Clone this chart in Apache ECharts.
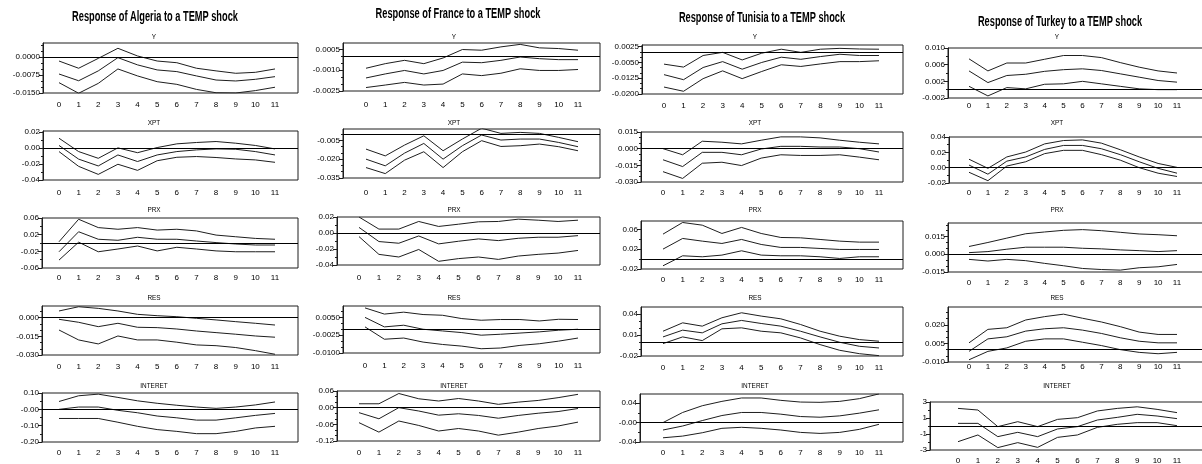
<!DOCTYPE html>
<html>
<head>
<meta charset="utf-8">
<script src="https://cdn.jsdelivr.net/npm/echarts@6/dist/echarts.min.js"></script>
<style>
  html, body { margin: 0; padding: 0; background: #fff; }
  #chart { width: 1202px; height: 464px; }
</style>
</head>
<body>
<div id="chart"></div>
<script>
const periods = [0, 1, 2, 3, 4, 5, 6, 7, 8, 9, 10, 11];
const countries = ['Algeria', 'France', 'Tunisia', 'Turkey'];
const variables = ['Y', 'XPT', 'PRX', 'RES', 'INTERET'];

// each panel: [upper band, response, lower band]
const algeriaY = [
  [-0.0017, -0.0047, -0.0006, 0.0036, 0.0004, -0.0017, -0.0024, -0.0047, -0.0058, -0.0068, -0.0064, -0.0050],
  [-0.0071, -0.0099, -0.0058, -0.0003, -0.0033, -0.0054, -0.0061, -0.0079, -0.0096, -0.0100, -0.0093, -0.0082],
  [-0.0107, -0.0151, -0.0110, -0.0050, -0.0079, -0.0103, -0.0114, -0.0135, -0.0149, -0.0150, -0.0140, -0.0126]
];
const algeriaXPT = [
  [0.012, -0.0046, -0.013, 0.0, -0.006, 0.0004, 0.005, 0.0067, 0.0079, 0.0058, 0.003, -0.0013],
  [0.003, -0.014, -0.0225, -0.0088, -0.017, -0.0088, -0.0046, -0.0025, -0.0013, -0.0017, -0.0046, -0.0088],
  [-0.0046, -0.023, -0.033, -0.0204, -0.028, -0.016, -0.0117, -0.0108, -0.012, -0.0138, -0.015, -0.018]
];
const algeriaPRX = [
  [0.003, 0.057, 0.037, 0.033, 0.037, 0.031, 0.033, 0.029, 0.019, 0.015, 0.011, 0.009],
  [-0.021, 0.027, 0.009, 0.0065, 0.0137, 0.009, 0.009, 0.0048, 0.001, -0.0024, -0.0048, -0.0048],
  [-0.041, 0.002, -0.021, -0.0144, -0.0072, -0.019, -0.0103, -0.0144, -0.019, -0.021, -0.021, -0.021]
];
const algeriaRES = [
  [0.0054, 0.0088, 0.0075, 0.0054, 0.0027, 0.0016, 0.0008, -0.0005, -0.0018, -0.0032, -0.0045, -0.0059],
  [-0.0013, -0.0037, -0.0072, -0.0045, -0.0077, -0.008, -0.0091, -0.0107, -0.012, -0.0133, -0.0147, -0.0157],
  [-0.0099, -0.0179, -0.0211, -0.0147, -0.0179, -0.0179, -0.0197, -0.0219, -0.0225, -0.024, -0.0265, -0.0294]
];
const algeriaINTERET = [
  [0.048, 0.083, 0.093, 0.073, 0.052, 0.037, 0.025, 0.014, 0.006, 0.014, 0.027, 0.045],
  [0.0, 0.014, 0.014, -0.006, -0.021, -0.041, -0.052, -0.066, -0.066, -0.052, -0.037, -0.025],
  [-0.056, -0.056, -0.056, -0.079, -0.104, -0.124, -0.135, -0.149, -0.149, -0.135, -0.114, -0.104]
];

const franceY = [
  [-0.00086, -0.00053, -0.00029, -0.00053, -0.00012, 0.00049, 0.00044, 0.00068, 0.00086, 0.00061, 0.00056, 0.00044],
  [-0.00156, -0.00127, -0.00102, -0.00127, -0.00102, -0.00042, -0.00046, -0.00029, -0.00005, -0.00017, -0.00024, -0.00024],
  [-0.00225, -0.00207, -0.00188, -0.00207, -0.0020, -0.00127, -0.00139, -0.00122, -0.0009, -0.00102, -0.00102, -0.00095]
];
const franceXPT = [
  [-0.012, -0.0174, -0.0088, -0.0014, -0.0133, -0.004, 0.0046, 0.0005, 0.0013, 0.0005, -0.0027, -0.0061],
  [-0.020, -0.0253, -0.0152, -0.0075, -0.020, -0.0093, -0.0008, -0.0048, -0.004, -0.004, -0.0067, -0.0101],
  [-0.0267, -0.0315, -0.0208, -0.0141, -0.0267, -0.0141, -0.0053, -0.0099, -0.0093, -0.008, -0.0101, -0.0133]
];
const francePRX = [
  [0.020, 0.0049, 0.0049, 0.0144, 0.0082, 0.011, 0.014, 0.0144, 0.0173, 0.016, 0.0144, 0.016],
  [0.007, -0.0107, -0.0128, -0.0037, -0.0136, -0.0103, -0.0074, -0.0095, -0.0066, -0.0053, -0.0053, -0.0033],
  [-0.0045, -0.0267, -0.030, -0.0206, -0.0354, -0.032, -0.030, -0.033, -0.0288, -0.0267, -0.0251, -0.0218]
];
const franceRES = [
  [0.009, 0.0064, 0.0072, 0.0062, 0.0059, 0.0045, 0.0038, 0.0041, 0.0041, 0.0035, 0.0042, 0.0041],
  [0.005, 0.001, 0.0017, 0.0, -0.0007, -0.0014, -0.0025, -0.0021, -0.0016, -0.0011, -0.0004, 0.0],
  [0.001, -0.0042, -0.0037, -0.0054, -0.0064, -0.0071, -0.0082, -0.0079, -0.0068, -0.0061, -0.005, -0.0037]
];
const franceINTERET = [
  [0.014, 0.014, 0.051, 0.032, 0.024, 0.033, 0.024, 0.012, 0.020, 0.026, 0.036, 0.048],
  [-0.018, -0.040, 0.0, -0.012, -0.027, -0.022, -0.028, -0.038, -0.028, -0.020, -0.014, -0.003],
  [-0.054, -0.088, -0.048, -0.064, -0.084, -0.075, -0.084, -0.099, -0.088, -0.075, -0.066, -0.052]
];

const tunisiaY = [
  [-0.0058, -0.0072, -0.0017, -0.0002, -0.0038, -0.0006, 0.0013, -0.0002, 0.0013, 0.0017, 0.0014, 0.0013],
  [-0.0108, -0.0132, -0.0074, -0.0046, -0.0082, -0.005, -0.0025, -0.0035, -0.0022, -0.0011, -0.0017, -0.0017],
  [-0.0167, -0.0187, -0.0127, -0.009, -0.0127, -0.0093, -0.0061, -0.0069, -0.0057, -0.0046, -0.0046, -0.0042]
];
const tunisiaXPT = [
  [0.0, -0.0055, 0.0067, 0.0058, 0.0043, 0.0076, 0.0106, 0.0106, 0.0097, 0.0076, 0.0058, 0.0043],
  [-0.010, -0.0161, -0.0033, -0.0033, -0.0055, -0.0003, 0.0021, 0.0021, 0.0015, 0.0015, 0.0, -0.003],
  [-0.0207, -0.0268, -0.0131, -0.0122, -0.0152, -0.0085, -0.0055, -0.0061, -0.0061, -0.0055, -0.0076, -0.010]
];
const tunisiaPRX = [
  [0.0505, 0.074, 0.0686, 0.0518, 0.064, 0.0518, 0.0437, 0.043, 0.0397, 0.0363, 0.0343, 0.0343],
  [0.0202, 0.0417, 0.0363, 0.0316, 0.0397, 0.0296, 0.0236, 0.0236, 0.0215, 0.0195, 0.0195, 0.0195],
  [-0.0135, 0.0067, 0.0047, 0.0081, 0.0168, 0.0081, 0.0067, 0.0067, 0.0047, 0.0013, 0.0047, 0.0047]
];
const tunisiaRES = [
  [0.0152, 0.0271, 0.0224, 0.0343, 0.0414, 0.0367, 0.0328, 0.0248, 0.0152, 0.0081, 0.0033, 0.001],
  [0.0071, 0.0167, 0.0129, 0.0257, 0.0305, 0.0262, 0.0224, 0.0152, 0.0071, -0.0005, -0.0062, -0.0086],
  [-0.0024, 0.0071, 0.0019, 0.0186, 0.020, 0.0152, 0.0129, 0.0057, -0.0038, -0.0119, -0.0167, -0.0195]
];
const tunisiaINTERET = [
  [0.0, 0.0209, 0.0348, 0.0438, 0.0508, 0.0508, 0.0459, 0.0424, 0.0418, 0.0438, 0.0494, 0.0592],
  [-0.0153, -0.007, 0.0042, 0.0146, 0.0209, 0.0209, 0.0174, 0.0125, 0.0111, 0.0139, 0.0195, 0.0264],
  [-0.0313, -0.0278, -0.0209, -0.0118, -0.0097, -0.0118, -0.0153, -0.0202, -0.0223, -0.0202, -0.0139, -0.0035]
];

const turkeyY = [
  [0.0074, 0.0045, 0.0064, 0.0064, 0.0073, 0.0082, 0.0082, 0.0077, 0.0065, 0.0054, 0.0045, 0.004],
  [0.0045, 0.0017, 0.0034, 0.0037, 0.0044, 0.0048, 0.005, 0.0046, 0.0038, 0.003, 0.0022, 0.0018],
  [0.0008, -0.0015, 0.0005, 0.0002, 0.0013, 0.0014, 0.002, 0.0014, 0.0008, 0.0002, 0.0, 0.0]
];
const turkeyXPT = [
  [0.011, -0.0009, 0.014, 0.0204, 0.031, 0.0354, 0.0362, 0.032, 0.0234, 0.014, 0.0055, 0.0004],
  [0.0034, -0.0085, 0.0085, 0.014, 0.0238, 0.029, 0.029, 0.0247, 0.017, 0.0077, -0.0009, -0.0072],
  [-0.006, -0.017, 0.0021, 0.0077, 0.0183, 0.0226, 0.0226, 0.017, 0.0098, 0.0, -0.0072, -0.0115]
];
const turkeyPRX = [
  [0.0066, 0.010, 0.0137, 0.0174, 0.0189, 0.0203, 0.0209, 0.020, 0.0186, 0.0172, 0.0166, 0.0157],
  [0.0014, 0.0023, 0.0043, 0.006, 0.006, 0.006, 0.0051, 0.0046, 0.0037, 0.0031, 0.0023, 0.0031],
  [-0.0043, -0.0057, -0.0043, -0.0054, -0.0077, -0.0097, -0.012, -0.0129, -0.0134, -0.0114, -0.0106, -0.0086]
];
const turkeyRES = [
  [0.0055, 0.0164, 0.0177, 0.024, 0.0267, 0.0287, 0.0254, 0.0224, 0.0186, 0.0142, 0.0123, 0.0123],
  [-0.0014, 0.0087, 0.0104, 0.015, 0.0169, 0.0177, 0.0158, 0.0131, 0.0096, 0.0068, 0.0055, 0.0055],
  [-0.0082, -0.0014, 0.0014, 0.0068, 0.0087, 0.0087, 0.006, 0.0033, 0.0, -0.0022, -0.0033, -0.0022]
];
const turkeyINTERET = [
  [2.2, 2.0, -0.08, 0.54, -0.08, 0.83, 1.04, 1.88, 2.2, 2.4, 2.08, 1.67],
  [0.33, 0.33, -1.33, -0.79, -1.33, -0.37, -0.08, 0.75, 1.08, 1.46, 1.25, 0.92],
  [-1.96, -1.12, -2.7, -2.08, -2.67, -1.42, -1.12, -0.17, 0.21, 0.42, 0.42, 0.04]
];

const panelData = [
  [algeriaY, algeriaXPT, algeriaPRX, algeriaRES, algeriaINTERET],
  [franceY, franceXPT, francePRX, franceRES, franceINTERET],
  [tunisiaY, tunisiaXPT, tunisiaPRX, tunisiaRES, tunisiaINTERET],
  [turkeyY, turkeyXPT, turkeyPRX, turkeyRES, turkeyINTERET]
];

// y tick labels, per country, per variable
const algeriaTickLabels = [
  ['0.0000', '-0.0075', '-0.0150'],
  ['0.02', '0.00', '-0.02', '-0.04'],
  ['0.06', '0.02', '-0.02', '-0.06'],
  ['0.000', '-0.015', '-0.030'],
  ['0.10', '-0.00', '-0.10', '-0.20']
];
const franceTickLabels = [
  ['0.0005', '-0.0010', '-0.0025'],
  ['-0.005', '-0.020', '-0.035'],
  ['0.02', '0.00', '-0.02', '-0.04'],
  ['0.0050', '-0.0025', '-0.0100'],
  ['0.06', '0.00', '-0.06', '-0.12']
];
const tunisiaTickLabels = [
  ['0.0025', '-0.0050', '-0.0125', '-0.0200'],
  ['0.015', '0.000', '-0.015', '-0.030'],
  ['0.06', '0.02', '-0.02'],
  ['0.04', '0.01', '-0.02'],
  ['0.04', '-0.00', '-0.04']
];
const turkeyTickLabels = [
  ['0.010', '0.006', '0.002', '-0.002'],
  ['0.04', '0.02', '0.00', '-0.02'],
  ['0.015', '0.000', '-0.015'],
  ['0.020', '0.005', '-0.010'],
  ['3', '1', '-1', '-3']
];
const tickLabels = [algeriaTickLabels, franceTickLabels, tunisiaTickLabels, turkeyTickLabels];

// y axis ranges [min, max]
const algeriaRanges = [[-0.015, 0.0058], [-0.04, 0.021], [-0.06, 0.06], [-0.03, 0.0094], [-0.2, 0.1]];
const franceRanges = [[-0.0025, 0.00096], [-0.035, 0.004], [-0.04, 0.02], [-0.01, 0.0098], [-0.12, 0.06]];
const tunisiaRanges = [[-0.02, 0.0033], [-0.03, 0.015], [-0.02, 0.077], [-0.02, 0.0496], [-0.04, 0.059]];
const turkeyRanges = [[-0.002, 0.01], [-0.02, 0.04], [-0.015, 0.0265], [-0.01, 0.0345], [-3, 3]];
const yRanges = [algeriaRanges, franceRanges, tunisiaRanges, turkeyRanges];

// ---- layout (pixels) ----
// right edge of the boxes, x of period 11, title centre/y, sub-title centre
const columnLayout = [
  { right: 298, cat11: 275, titleX: 155, titleY: 17, subX: 154 },
  { right: 600, cat11: 578, titleX: 458, titleY: 14, subX: 454 },
  { right: 903, cat11: 879, titleX: 762, titleY: 18, subX: 755 },
  { right: 1212, cat11: 1177, titleX: 1060, titleY: 22, subX: 1057 }
];
// per panel: [left, top, bottom, x of period 0, y of period labels]
const panelLayout = [
  [[43, 43, 93, 59, 105], [43, 131, 180, 59, 193], [42, 218, 268, 59, 278], [42, 306, 355, 59, 367], [42, 393, 442, 59, 453]],
  [[343, 43, 91, 366, 105], [343, 129, 178, 366, 193], [337, 217, 265, 359, 278], [343, 306, 353, 365, 366], [337, 391, 441, 359, 453]],
  [[642, 45, 94, 664, 106], [641, 132, 182, 663, 193], [641, 221, 269, 663, 280], [641, 307, 356, 663, 368], [640, 394, 442, 663, 453]],
  [[948, 48, 98, 969, 106], [949, 137, 183, 969, 193], [948, 223, 272, 969, 283], [948, 307, 362, 969, 367], [930, 402, 450, 958, 461]]
];
const subTitleY = [37, 123, 210, 298, 386];

const font = "'Liberation Sans', Arial, sans-serif";
const ink = '#1e1e1e';

// minor ticks between the labelled ones
function minorTicks(ticks, min, max) {
  const step = Math.abs(ticks[0] - ticks[1]);
  const mant = step / Math.pow(10, Math.floor(Math.log10(step)));
  const splits = [1.5, 3, 6, 7.5].some(m => Math.abs(mant - m) < 1e-6) ? 3 : 2;
  const ms = step / splits;
  const out = [];
  for (let k = -60; k <= 60; k++) {
    const v = ticks[0] + k * ms;
    if (v < min - 1e-12 || v > max + 1e-12) continue;
    if (k % splits === 0) continue;
    out.push(v);
  }
  return out;
}

const grids = [], xAxes = [], yAxes = [], series = [], graphics = [];

countries.forEach((country, c) => {
  const col = columnLayout[c];
  graphics.push({
    type: 'text', x: col.titleX, y: col.titleY, scaleX: 0.66,
    style: { text: 'Response of ' + country + ' to a TEMP shock', font: 'bold 14px ' + font,
      textAlign: 'center', textVerticalAlign: 'middle', fill: '#000' }
  });
  variables.forEach((v, r) => {
    const [left, top, bottom, cat0, labY] = panelLayout[c][r];
    const step = (col.cat11 - cat0) / 11;
    const [yMin, yMax] = yRanges[c][r];
    const labels = tickLabels[c][r];
    const ticks = labels.map(Number);
    const gi = grids.length;

    graphics.push({
      type: 'text', x: col.subX, y: subTitleY[r], scaleX: 0.8,
      style: { text: v, font: '8px ' + font, textAlign: 'center', textVerticalAlign: 'middle', fill: '#000' }
    });

    grids.push({
      left: left, top: top, width: col.right - left, height: bottom - top,
      show: true, borderColor: ink, borderWidth: 1, backgroundColor: 'transparent',
      containLabel: false, outerBoundsMode: 'none'
    });

    xAxes.push({
      type: 'value', gridIndex: gi, position: 'bottom',
      min: (left - cat0) / step, max: (col.right - cat0) / step,
      axisLine: { show: false, onZero: false }, axisTick: { show: false }, splitLine: { show: false },
      axisLabel: {
        customValues: periods, formatter: val => String(Math.round(val)),
        margin: labY - bottom - 4, fontSize: 8, fontFamily: font, color: '#000'
      }
    });

    yAxes.push({
      type: 'value', gridIndex: gi, position: 'left', min: yMin, max: yMax,
      axisLine: { show: true, onZero: false, lineStyle: { color: ink, width: 1 } },
      axisTick: { show: true, customValues: ticks, length: 4, lineStyle: { color: ink } },
      axisLabel: {
        customValues: ticks, margin: 3, fontSize: 8, fontFamily: font, color: '#000',
        formatter: val => {
          let best = 0;
          ticks.forEach((t, i) => { if (Math.abs(t - val) < Math.abs(ticks[best] - val)) best = i; });
          return labels[best];
        }
      },
      splitLine: { show: false }
    });
    yAxes.push({
      type: 'value', gridIndex: gi, position: 'left', offset: 0, min: yMin, max: yMax,
      axisLine: { show: false, onZero: false },
      axisTick: { show: true, customValues: minorTicks(ticks, yMin, yMax), length: 2, lineStyle: { color: ink } },
      axisLabel: { show: false }, splitLine: { show: false }
    });

    panelData[c][r].forEach((line, k) => {
      const s = {
        type: 'line', xAxisIndex: gi, yAxisIndex: 2 * gi,
        data: periods.map((p, i) => [p, line[i]]),
        symbol: 'none', silent: true, clip: true,
        lineStyle: { color: ink, width: 1 }
      };
      if (k === 0) {
        s.markLine = {
          silent: true, symbol: ['none', 'none'], label: { show: false },
          lineStyle: { color: '#000', type: 'solid', width: 1 },
          data: [{ yAxis: 0 }]
        };
      }
      series.push(s);
    });
  });
});

const chart = echarts.init(document.getElementById('chart'), null, { renderer: 'canvas' });
chart.setOption({
  animation: false,
  backgroundColor: '#fff',
  grid: grids,
  xAxis: xAxes,
  yAxis: yAxes,
  series: series,
  graphic: graphics
});
</script>
</body>
</html>
